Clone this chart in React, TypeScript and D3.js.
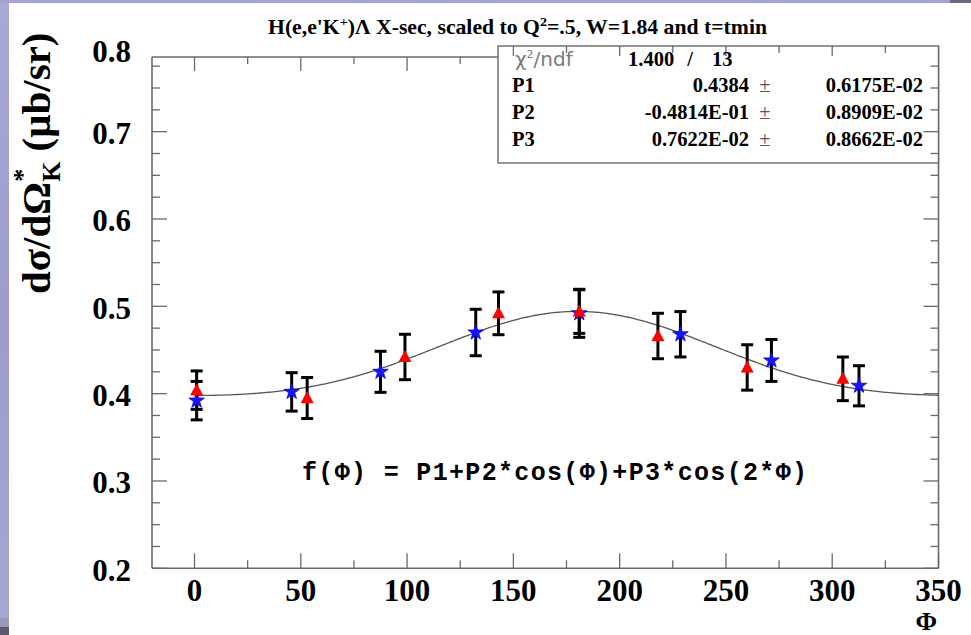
import React from "react";
import * as d3 from "d3";

// Data
const phiRed = [1, 53, 99, 143, 181, 218, 260, 305];
const valRed = [0.404, 0.395, 0.442, 0.492, 0.494, 0.466, 0.43, 0.417];
const errRed = [0.022, 0.0235, 0.026, 0.0245, 0.025, 0.026, 0.026, 0.025];

const phiBlue = [1, 45.7, 87.5, 132.3, 181, 228.6, 271.4, 312.6];
const valBlue = [0.392, 0.402, 0.425, 0.47, 0.492, 0.468, 0.438, 0.409];
const errBlue = [0.022, 0.022, 0.0235, 0.0266, 0.0275, 0.026, 0.024, 0.023];

const fitParams = [0.4384, -0.04814, 0.007622];
const paramNames = ["P1", "P2", "P3"];
const paramValues = ["0.4384", "-0.4814E-01", "0.7622E-02"];
const paramErrors = ["0.6175E-02", "0.8909E-02", "0.8662E-02"];
const chi2Text = "1.400";
const ndfText = "13";

const xMajorTicks = [0, 50, 100, 150, 200, 250, 300, 350];
const xMinorTicks = [25, 75, 125, 175, 225, 275, 325];
const yMajorTicks = [0.2, 0.3, 0.4, 0.5, 0.6, 0.7, 0.8];

const W = 971;
const H = 635;

export default function App() {
  const x = d3.scaleLinear().domain([-20, 350]).range([152, 938.5]);
  const y = d3.scaleLinear().domain([0.2, 0.7855]).range([568.3, 57]);
  const left = 152, right = 938.5, top = 57, bottom = 568.3;
  const boxL = 498, boxT = 46, boxB = 163;

  const yMinor: number[] = [];
  for (let i = 0; i <= 24; i++) {
    const v = 0.2 + i * 0.025;
    if (i % 4 !== 0 && y(v) >= top) yMinor.push(v);
  }
  const yMajorIn = yMajorTicks.filter((v) => y(v) >= top - 0.5);

  const f = (p: number) => {
    const r = (p * Math.PI) / 180;
    return fitParams[0] + fitParams[1] * Math.cos(r) + fitParams[2] * Math.cos(2 * r);
  };
  const curvePts = d3.range(0, 350.01, 1).map((p) => [p, f(p)] as [number, number]);
  const line = d3
    .line<[number, number]>()
    .x((d) => x(d[0]))
    .y((d) => y(d[1]))
    .curve(d3.curveLinear);

  const frameColor = "#6a6a6a";
  const serif = "'Liberation Serif', 'Times New Roman', serif";

  const starPath = d3.symbol(d3.symbolStar, 75)() as string;
  const triPath = "M0,-7 L6.5,5 L-6.5,5 Z";

  const errBar = (px: number, v: number, e: number, key: string) => {
    const cx = x(px);
    const y1 = y(v + e);
    const y2 = y(v - e);
    return (
      <g key={key} stroke="#000" strokeWidth={3}>
        <line x1={cx} x2={cx} y1={y1} y2={y2} />
        <line x1={cx - 6} x2={cx + 6} y1={y1} y2={y1} />
        <line x1={cx - 6} x2={cx + 6} y1={y2} y2={y2} />
      </g>
    );
  };

  return (
    <svg
      width={W}
      height={H}
      viewBox={`0 0 ${W} ${H}`}
      style={{ position: "absolute", left: 0, top: 0, display: "block" }}
    >
      <defs>
        <linearGradient id="lav" x1="0" y1="0" x2="0" y2="1">
          <stop offset="0" stopColor="#a9a9d9" />
          <stop offset="0.5" stopColor="#9d9dcd" />
          <stop offset="1" stopColor="#a7a7d3" />
        </linearGradient>
      </defs>
      <rect x={0} y={0} width={W} height={H} fill="#ffffff" />
      <rect x={0} y={0} width={9} height={H} fill="url(#lav)" />
      <rect x={0} y={0} width={950} height={3} fill="#a3a3d3" />
      <rect x={950} y={0} width={21} height={3} fill="#6a6a78" />
      <rect x={0} y={618} width={9} height={9} fill="#9a9ab8" />
      <rect x={0} y={627} width={9} height={8} fill="#5a5a68" />

      {/* Title */}
      <text
        x={268}
        y={34}
        fontFamily={serif}
        fontWeight="bold"
        fontSize={20}
        fill="#000"
        textLength={499}
        lengthAdjust="spacingAndGlyphs"
      >
        H(e,e'K<tspan dy={-8} fontSize={13}>+</tspan>
        <tspan dy={8}>)Λ X-sec, scaled to Q</tspan>
        <tspan dy={-8} fontSize={13}>2</tspan>
        <tspan dy={8}>=.5, W=1.84 and t=tmin</tspan>
      </text>

      {/* Frame */}
      <g stroke={frameColor} strokeWidth={1.6} fill="none">
        <line x1={left} x2={left} y1={top} y2={bottom} />
        <line x1={left} x2={right} y1={bottom} y2={bottom} />
        <line x1={left} x2={boxL} y1={top} y2={top} />
        <line x1={right} x2={right} y1={boxT} y2={bottom} />
      </g>

      {/* X ticks bottom & top, Y ticks left */}
      <g stroke={frameColor} strokeWidth={1.3}>
        {xMajorTicks.map((t) => (
          <line key={"xb" + t} x1={x(t)} x2={x(t)} y1={bottom} y2={bottom - 15} />
        ))}
        {xMinorTicks.map((t) => (
          <line key={"xbm" + t} x1={x(t)} x2={x(t)} y1={bottom} y2={bottom - 8} />
        ))}
        {xMajorTicks
          .filter((t) => x(t) < boxL)
          .map((t) => (
            <line key={"xt" + t} x1={x(t)} x2={x(t)} y1={top} y2={top + 14} />
          ))}
        {xMinorTicks
          .filter((t) => x(t) < boxL)
          .map((t) => (
            <line key={"xtm" + t} x1={x(t)} x2={x(t)} y1={top} y2={top + 7} />
          ))}
        {yMajorIn.map((v) => (
          <line key={"yl" + v} x1={left} x2={left + 15} y1={y(v)} y2={y(v)} />
        ))}
        {yMinor.map((v) => (
          <line key={"ylm" + v} x1={left} x2={left + 8} y1={y(v)} y2={y(v)} />
        ))}
      </g>

      {/* Tick labels */}
      <g fontFamily={serif} fontWeight="bold" fontSize={31} fill="#000">
        {xMajorTicks.map((t) => (
          <text key={"xl" + t} x={x(t)} y={601} textAnchor="middle">
            {t}
          </text>
        ))}
        {yMajorTicks.map((v) => (
          <text key={"ylab" + v} x={131} y={Math.max(y(v) + 1.5, 51)} dy="0.35em" textAnchor="end">
            {v.toFixed(1)}
          </text>
        ))}
      </g>

      {/* Axis titles */}
      <text x={937} y={630} textAnchor="end" fontFamily={serif} fontWeight="bold" fontSize={26}>
        Φ
      </text>
      <text
        transform="translate(50,294) rotate(-90)"
        x={0}
        y={0}
        fontFamily={serif}
        fontWeight="bold"
        fontSize={41}
        fill="#000"
      >
        dσ/dΩ
        <tspan fontSize={26} dy={-19}>*</tspan>
        <tspan fontSize={26} dx={-13} dy={29}>K</tspan>
        <tspan dy={-10}> (μb/sr)</tspan>
      </text>

      {/* Fit curve */}
      <path d={line(curvePts) as string} fill="none" stroke="#555" strokeWidth={1.3} />

      {/* Error bars */}
      {phiBlue.map((p, i) => errBar(p, valBlue[i], errBlue[i], "eb" + i))}
      {phiRed.map((p, i) => errBar(p, valRed[i], errRed[i], "er" + i))}

      {/* Markers */}
      {phiBlue.map((p, i) => (
        <path
          key={"sb" + i}
          d={starPath}
          transform={`translate(${x(p)},${y(valBlue[i])})`}
          fill="#1515ff"
          stroke="#0000ee"
          strokeWidth={0.8}
        />
      ))}
      {phiRed.map((p, i) => (
        <path key={"tr" + i} d={triPath} transform={`translate(${x(p)},${y(valRed[i])})`} fill="#ff0000" />
      ))}

      {/* Function text */}
      <text
        x={302}
        y={480}
        fontFamily="'Liberation Mono', 'Courier New', monospace"
        fontWeight="bold"
        fontSize={25}
        fill="#000"
        textLength={505}
        lengthAdjust="spacing"
      >
        f(Φ)  =  P1+P2*cos(Φ)+P3*cos(2*Φ)
      </text>

      {/* Stats box */}
      <rect x={boxL} y={boxT} width={right - boxL} height={boxB - boxT} fill="#fff" stroke={frameColor} strokeWidth={1.4} />
      <g stroke={frameColor} strokeWidth={1.3}>
        {xMajorTicks
          .filter((t) => x(t) > boxL && x(t) < right - 2)
          .map((t) => (
            <line key={"bxt" + t} x1={x(t)} x2={x(t)} y1={boxT} y2={boxT + 10} />
          ))}
        {xMinorTicks
          .filter((t) => x(t) > boxL)
          .map((t) => (
            <line key={"bxtm" + t} x1={x(t)} x2={x(t)} y1={boxT} y2={boxT + 7} />
          ))}
      </g>
      <g stroke={frameColor} strokeWidth={1.3}>
        {yMajorIn.map((v) => (
          <line key={"yr" + v} x1={right} x2={right - 15} y1={y(v)} y2={y(v)} />
        ))}
        {yMinor.map((v) => (
          <line key={"yrm" + v} x1={right} x2={right - 8} y1={y(v)} y2={y(v)} />
        ))}
      </g>
      <text x={515} y={66} fontFamily="'DejaVu Sans', sans-serif" fontSize={20} fill="#7a7a7a" fontWeight="normal">
        χ<tspan dy={-8} fontSize={11}>2</tspan>
        <tspan dy={8}>/ndf</tspan>
      </text>
      <g fontFamily={serif} fontWeight="bold" fontSize={20.5} fill="#000">
        <text x={628} y={66}>{chi2Text}</text>
        <text x={690} y={66} textAnchor="middle">/</text>
        <text x={712} y={66}>{ndfText}</text>
        {paramNames.map((n, i) => {
          const by = [91.5, 118.5, 145.5][i];
          return (
            <g key={n}>
              <text x={512} y={by}>{n}</text>
              <text x={749} y={by} textAnchor="end">{paramValues[i]}</text>
              <text x={765} y={by} textAnchor="middle" fontWeight="normal" fill="#555">±</text>
              <text x={923} y={by} textAnchor="end">{paramErrors[i]}</text>
            </g>
          );
        })}
      </g>
    </svg>
  );
}
